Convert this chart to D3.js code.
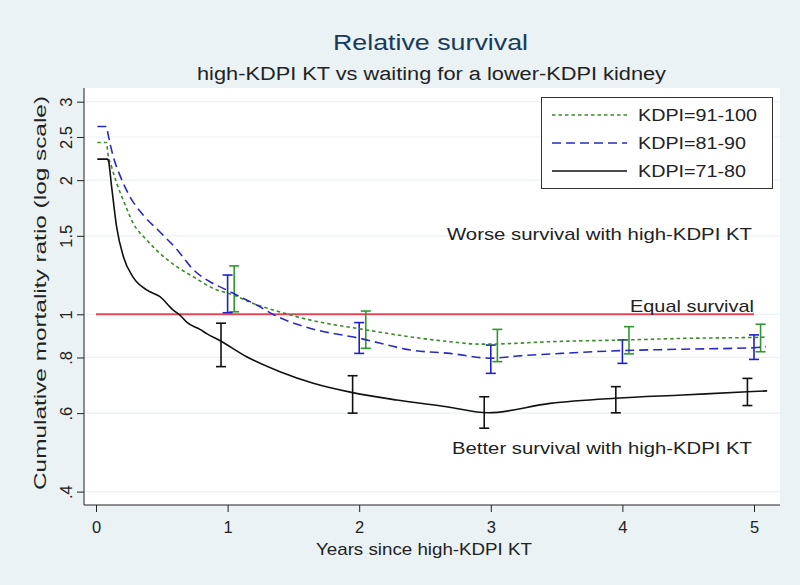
<!DOCTYPE html>
<html><head><meta charset="utf-8">
<script src="https://cdn.jsdelivr.net/npm/d3@7"></script>
<style>html,body{margin:0;padding:0;background:#eaf2f3;}svg{display:block;font-family:"Liberation Sans",Arial,sans-serif;}</style>
</head><body>
<script>
// ---- data ----
const xTicks = [0, 1, 2, 3, 4, 5];
const yTicks = [0.4, 0.6, 0.8, 1, 1.5, 2, 2.5, 3];
const yTickLabels = [".4", ".6", ".8", "1", "1.5", "2", "2.5", "3"];
const seriesNames = ["KDPI=91-100", "KDPI=81-90", "KDPI=71-80"];

const curve91 = [[0.01,2.43],[0.08,2.43],[0.09,2.30],[0.119,2.14],[0.157,1.97],[0.207,1.805],[0.283,1.60],[0.385,1.468],[0.486,1.37],[0.613,1.279],[0.739,1.214],[0.891,1.143],[1.043,1.105],[1.195,1.058],[1.398,1.012],[1.6,0.975],[2.057,0.922],[2.41,0.888],[2.69,0.868],[2.918,0.857],[3.06,0.858],[3.45,0.868],[4.04,0.876],[4.46,0.883],[5.05,0.888],[5.09,0.89]];
const curve81 = [[0.01,2.64],[0.08,2.64],[0.09,2.55],[0.131,2.26],[0.182,2.05],[0.258,1.836],[0.359,1.67],[0.486,1.53],[0.613,1.40],[0.739,1.26],[0.866,1.183],[0.993,1.134],[1.094,1.095],[1.221,1.049],[1.373,0.99],[1.6,0.935],[2.006,0.883],[2.41,0.83],[2.69,0.817],[3.0,0.797],[3.2,0.806],[3.53,0.817],[4.0,0.829],[4.46,0.835],[5.0,0.841],[5.09,0.846]];
const curve71 = [[0.01,2.23],[0.085,2.23],[0.093,2.22],[0.119,1.93],[0.157,1.57],[0.207,1.35],[0.283,1.21],[0.385,1.134],[0.486,1.095],[0.587,1.022],[0.638,0.996],[0.689,0.96],[0.79,0.925],[0.841,0.905],[0.95,0.87],[1.145,0.803],[1.398,0.743],[1.651,0.70],[1.95,0.667],[2.285,0.642],[2.665,0.620],[2.98,0.601],[3.45,0.631],[3.95,0.648],[4.46,0.659],[4.95,0.670],[5.1,0.673]];

const ciYears = [1, 2, 3, 4, 5];
const ci91Lo = [1.013, 0.839, 0.783, 0.815, 0.824];
const ci91Hi = [1.284, 1.017, 0.925, 0.938, 0.95];
const ci81Lo = [1.008, 0.817, 0.737, 0.776, 0.792];
const ci81Hi = [1.225, 0.958, 0.853, 0.876, 0.899];
const ci71Lo = [0.763, 0.60, 0.555, 0.601, 0.624];
const ci71Hi = [0.955, 0.728, 0.653, 0.688, 0.718];
const ciOffset = [0.05, 0, -0.05];

// ---- drawing ----
const W = 800, H = 585;
const svg = d3.select("body").append("svg").attr("width", W).attr("height", H);
svg.append("rect").attr("width", W).attr("height", H).attr("fill", "#eaf2f3");

const plot = {l: 84, r: 780, t: 88, b: 505};
const x = d3.scaleLinear().domain([0, 5]).range([96, 754]);
const y = d3.scaleLog().domain([0.4, 3]).range([491.6, 101.7]);

svg.append("rect").attr("x", plot.l).attr("y", plot.t).attr("width", plot.r - plot.l).attr("height", plot.b - plot.t).attr("fill", "#ffffff");

// gridlines
svg.append("g").selectAll("line").data(yTicks).join("line")
  .attr("x1", plot.l).attr("x2", plot.r).attr("y1", d => y(d)).attr("y2", d => y(d))
  .attr("stroke", "#eaf2f3").attr("stroke-width", 1.2);

// axes
const yAxis = d3.axisLeft(y).tickValues(yTicks).tickFormat((d, i) => yTickLabels[i]).tickSize(7).tickPadding(4);
const gy = svg.append("g").attr("transform", `translate(${plot.l},0)`).call(yAxis);
gy.select(".domain").attr("d", `M0,${plot.t}V${plot.b}`).attr("stroke", "#222");
gy.selectAll(".tick line").attr("stroke", "#222");
gy.selectAll(".tick text").attr("font-size", 16.5).attr("fill", "#222")
  .attr("text-anchor", "middle").attr("x", 0).attr("y", 0).attr("dy", 0)
  .attr("transform", "translate(-12,0) rotate(-90)");

const xAxis = d3.axisBottom(x).tickValues(xTicks).tickFormat(d3.format("d")).tickSize(7).tickPadding(5);
const gx = svg.append("g").attr("transform", `translate(0,${plot.b})`).call(xAxis);
gx.select(".domain").attr("d", `M${plot.l},0H${plot.r}`).attr("stroke", "#222");
gx.selectAll(".tick line").attr("stroke", "#222");
gx.selectAll(".tick text").attr("font-size", 16.5).attr("fill", "#222").attr("dy", 0).attr("y", 28);

// reference line
svg.append("line").attr("x1", x(0)).attr("x2", x(5)).attr("y1", y(1)).attr("y2", y(1))
  .attr("stroke", "#e8475a").attr("stroke-width", 2);

const line = d3.line().x(d => x(d[0])).y(d => y(d[1])).curve(d3.curveMonotoneX);
const styles = [
  {data: curve91, color: "#3d8a2a", dash: "3.5,3", lo: ci91Lo, hi: ci91Hi, bar: "#2e9a2e"},
  {data: curve81, color: "#2a2ac0", dash: "9,5", lo: ci81Lo, hi: ci81Hi, bar: "#2020c8"},
  {data: curve71, color: "#111111", dash: null, lo: ci71Lo, hi: ci71Hi, bar: "#111111"}
];

// error bars
styles.forEach((s, k) => {
  const g = svg.append("g").attr("stroke", s.bar).attr("stroke-width", 1.6).attr("fill", "none");
  ciYears.forEach((t, i) => {
    const cx = x(t + ciOffset[k]);
    g.append("line").attr("x1", cx).attr("x2", cx).attr("y1", y(s.lo[i])).attr("y2", y(s.hi[i]));
    g.append("line").attr("x1", cx - 5).attr("x2", cx + 5).attr("y1", y(s.lo[i])).attr("y2", y(s.lo[i]));
    g.append("line").attr("x1", cx - 5).attr("x2", cx + 5).attr("y1", y(s.hi[i])).attr("y2", y(s.hi[i]));
  });
});

// curves
styles.forEach(s => {
  svg.append("path").attr("d", line(s.data)).attr("fill", "none")
    .attr("stroke", s.color).attr("stroke-width", 1.6)
    .attr("stroke-dasharray", s.dash);
});

// legend
const lg = svg.append("g");
lg.append("rect").attr("x", 541.5).attr("y", 97.5).attr("width", 231).attr("height", 91)
  .attr("fill", "#ffffff").attr("stroke", "#333").attr("stroke-width", 1);
const rowY = [115, 143, 171];
const widths = [119, 108, 108];
styles.forEach((s, k) => {
  lg.append("line").attr("x1", 552).attr("x2", 627).attr("y1", rowY[k]).attr("y2", rowY[k])
    .attr("stroke", s.color).attr("stroke-width", 1.6).attr("stroke-dasharray", s.dash);
  lg.append("text").attr("x", 638).attr("y", rowY[k] + 6).attr("font-size", 16).attr("fill", "#222")
    .attr("textLength", widths[k]).attr("lengthAdjust", "spacingAndGlyphs").text(seriesNames[k]);
});

// texts
function txt(t, xx, yy, size, len, anchor, color) {
  return svg.append("text").attr("x", xx).attr("y", yy).attr("font-size", size)
    .attr("fill", color || "#222").attr("text-anchor", anchor || "start")
    .attr("textLength", len).attr("lengthAdjust", "spacingAndGlyphs").text(t);
}
txt("Relative survival", 333, 50, 22, 195, "start", "#1a3a5a");
txt("high-KDPI KT vs waiting for a lower-KDPI kidney", 197, 80, 18, 469, "start", "#222");
txt("Worse survival with high-KDPI KT", 447, 240, 17, 305);
txt("Equal survival", 630, 312, 17, 124);
txt("Better survival with high-KDPI KT", 452, 454, 17, 300);
txt("Years since high-KDPI KT", 316, 555, 17, 216);
svg.append("text").attr("transform", "translate(46,490) rotate(-90)").attr("x", 0).attr("y", 0)
  .attr("font-size", 17).attr("fill", "#222").attr("textLength", 394).attr("lengthAdjust", "spacingAndGlyphs")
  .text("Cumulative mortality ratio (log scale)");
</script>
</body></html>
